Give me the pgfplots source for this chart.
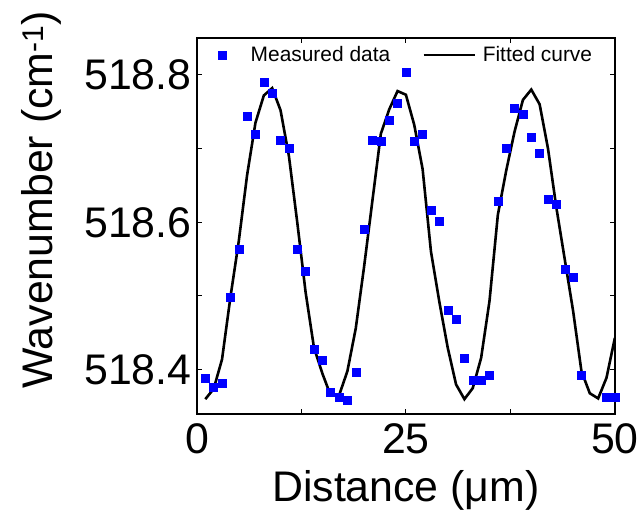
\documentclass[border=0pt]{standalone}
\usepackage{fontspec}
\setmainfont{Liberation Sans}
\usepackage{pgfplots}
\pgfplotsset{compat=1.18}
\pgfplotsset{
  legA/.style={legend image code/.code={\draw[##1] plot coordinates {(0bp,0bp)};}},
  legB/.style={legend image code/.code={\draw[##1] (0bp,0bp) -- (51bp,0bp);}},
}
\begin{document}
\begin{tikzpicture}
\begin{axis}[
  scale only axis=true,
  width=418bp, height=376bp,
  xmin=0, xmax=50, ymin=518.34, ymax=518.85,
  xtick={0,25,50}, minor xtick={12.5,37.5},
  ytick={518.4,518.6,518.8}, minor ytick={518.5,518.7},
  yticklabels={518.4,518.6,518.8},
  xticklabels={0,25,50},
  tick pos=both, tick align=inside,
  major tick length=5bp, minor tick length=5bp,
  every tick/.style={black, line width=1bp},
  every minor tick/.style={black, line width=1bp},
  axis line style={line width=1.3bp},
  tick label style={font=\fontsize{43}{43}\selectfont},
  /pgf/number format/assume math mode=true,
  xticklabel style={yshift=-6bp},
  yticklabel style={xshift=-2bp},
  xlabel={Distance (μm)},
  ylabel={Wavenumber (cm\textsuperscript{-1})},
  label style={font=\fontsize{43}{43}\selectfont},
  xlabel style={at={(axis description cs:0.5,0)}, anchor=north, yshift=-53bp},
  ylabel style={at={(axis description cs:-0.371,0.569)}, anchor=center},
  legend style={at={(axis description cs:0.50,0.988)}, anchor=north, draw=none, fill=none,
    font=\fontsize{21}{23}\selectfont, legend columns=2,
    /tikz/every even column/.append style={column sep=30bp}},
  legend cell align=left,
]
\addplot[only marks, mark=square*, mark size=4bp, color={rgb,255:red,0;green,0;blue,255}, legA]
coordinates {
(1,518.389) (2,518.376) (3,518.382) (4,518.498) (5,518.564) (6,518.744) (7,518.720)
(8,518.790) (9,518.775) (10,518.712) (11,518.700) (12,518.564) (13,518.533) (14,518.428)
(15,518.413) (16,518.369) (17,518.363) (18,518.358) (19,518.396) (20,518.591) (21,518.712)
(22,518.710) (23,518.738) (24,518.762) (25,518.803) (26,518.710) (27,518.720) (28,518.616)
(29,518.602) (30,518.481) (31,518.469) (32,518.416) (33,518.386) (34,518.386) (35,518.393)
(36,518.629) (37,518.700) (38,518.755) (39,518.746) (40,518.716) (41,518.694) (42,518.631)
(43,518.624) (44,518.536) (45,518.526) (46,518.392) (47,518.338) (49,518.363) (50,518.362)
};
\addlegendentry{\hspace{23bp}Measured data}
\addplot[black, line width=2.6bp, mark=none, legB]
coordinates {
(1,518.360) (2,518.374) (3,518.414) (4,518.498) (5,518.574) (6,518.664) (7,518.735)
(8,518.772) (9,518.782) (10,518.752) (11,518.690) (12,518.600) (13,518.505) (14,518.430)
(15,518.395) (16,518.365) (17,518.365) (18,518.398) (19,518.456) (20,518.540) (21,518.630)
(22,518.720) (23,518.753) (24,518.778) (25,518.773) (26,518.732) (27,518.672) (28,518.560)
(29,518.492) (30,518.430) (31,518.380) (32,518.360) (33,518.375) (34,518.416) (35,518.493)
(36,518.610) (37,518.670) (38,518.723) (39,518.766) (40,518.780) (41,518.760) (42,518.700)
(43,518.620) (44,518.550) (45,518.480) (46,518.398) (47,518.368) (48,518.361) (49,518.389)
(50,518.443)
};
\addlegendentry{\hspace{5bp}Fitted curve}
\end{axis}
\path (current axis.south west) ++(-197bp,-101bp) coordinate (bl);
\path (current axis.north east) ++(27bp,38bp) coordinate (tr);
\path (bl) -- (tr);
\end{tikzpicture}
\end{document}
